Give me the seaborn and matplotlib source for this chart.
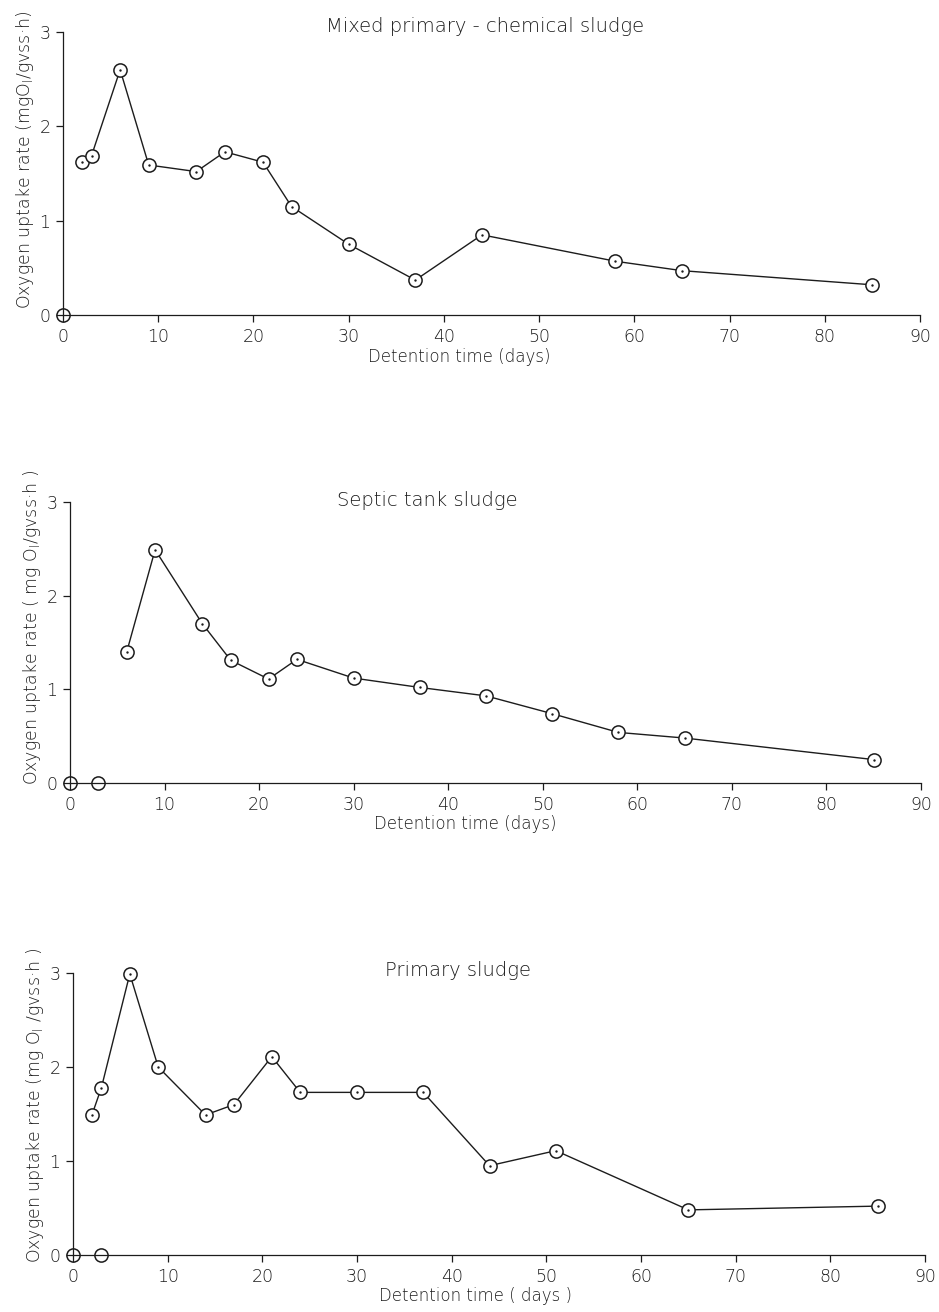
import matplotlib
matplotlib.use("Agg")
import matplotlib.pyplot as plt
import pandas as pd
import seaborn as sns

# ---------------- data ----------------
titles = ["Mixed primary - chemical sludge", "Septic tank sludge", "Primary sludge"]
xlabels = ["Detention time (days)", "Detention time (days)", "Detention time ( days )"]
ylabels = [r"Oxygen uptake rate (mgO$_\mathregular{l}$/gvss·h)",
           r"Oxygen uptake rate ( mg O$_\mathregular{l}$/gvss·h )",
           r"Oxygen uptake rate (mg O$_\mathregular{l}$ /gvss·h )"]

mixed_days = [2, 3, 6, 9, 14, 17, 21, 24, 30, 37, 44, 58, 65, 85]
mixed_rate = [1.62, 1.69, 2.60, 1.59, 1.52, 1.73, 1.62, 1.15, 0.75, 0.37, 0.85, 0.57, 0.47, 0.32]
mixed_zero_days = [0]

septic_days = [6, 9, 14, 17, 21, 24, 30, 37, 44, 51, 58, 65, 85]
septic_rate = [1.40, 2.49, 1.70, 1.31, 1.11, 1.32, 1.12, 1.02, 0.93, 0.74, 0.54, 0.48, 0.25]
septic_zero_days = [0, 3]

primary_days = [2, 3, 6, 9, 14, 17, 21, 24, 30, 37, 44, 51, 65, 85]
primary_rate = [1.49, 1.78, 2.99, 2.00, 1.49, 1.60, 2.11, 1.73, 1.73, 1.73, 0.95, 1.11, 0.48, 0.52]
primary_zero_days = [0, 3]

x_ticks = [0, 10, 20, 30, 40, 50, 60, 70, 80, 90]
y_ticks = [0, 1, 2, 3]

# ---------------- style ----------------
sns.set_style("ticks")
plt.rcParams["font.family"] = ["DejaVu Sans"]
plt.rcParams["mathtext.default"] = "regular"
ink = "#1c1c1c"

W, H = 939, 1312
fig = plt.figure(figsize=(W / 100, H / 100), dpi=100)
fig.patch.set_facecolor("white")

# axes boxes in pixels: (left x at 0, right x at 90, y of 0, y of 3)
boxes = [(63, 920, 315, 32), (70, 921, 783, 502), (73, 925, 1255, 973)]
title_pos = [(485, 27), (427, 500), (458, 970)]
xlabel_x = [0.462, 0.465, 0.472]
ylabel_y = [0.55, 0.555, 0.53]

panels = [
    (mixed_days, mixed_rate, mixed_zero_days),
    (septic_days, septic_rate, septic_zero_days),
    (primary_days, primary_rate, primary_zero_days),
]

for i, (days, rate, zeros) in enumerate(panels):
    l, r, b, t = boxes[i]
    ax = fig.add_axes([l / W, 1 - b / H, (r - l) / W, (b - t) / H])
    ax.set_facecolor("none")
    df = pd.DataFrame({"days": days, "rate": rate})
    sns.lineplot(data=df, x="days", y="rate", ax=ax, color=ink, lw=1.0,
                 marker="o", markersize=9.5, markerfacecolor="white",
                 markeredgecolor=ink, markeredgewidth=1.1, clip_on=False, zorder=3)
    sns.scatterplot(data=df, x="days", y="rate", ax=ax, s=3, color=ink,
                    linewidth=0, clip_on=False, zorder=4)
    zdf = pd.DataFrame({"days": zeros, "rate": [0] * len(zeros)})
    sns.lineplot(data=zdf, x="days", y="rate", ax=ax, color=ink, linestyle="",
                 marker="o", markersize=9.5, markerfacecolor="none",
                 markeredgecolor=ink, markeredgewidth=1.1, clip_on=False, zorder=3)

    ax.set_xlim(0, 90)
    ax.set_ylim(0, 3)
    ax.set_xticks(x_ticks)
    ax.set_yticks(y_ticks)
    ax.set_xticklabels([str(v) for v in x_ticks], fontweight="light")
    ax.set_yticklabels([str(v) for v in y_ticks], fontweight="light")
    sns.despine(ax=ax)
    for s in ("left", "bottom"):
        ax.spines[s].set_linewidth(0.9)
        ax.spines[s].set_color(ink)
    ax.tick_params(direction="out", length=5, width=0.9, colors=ink,
                   labelsize=12.5, pad=4)

    ax.set_xlabel(xlabels[i], fontsize=12, color=ink, fontweight="light", va="top")
    ax.xaxis.set_label_coords(xlabel_x[i], -0.115)
    ax.set_ylabel(ylabels[i], fontsize=12.5, color=ink, fontweight="light")
    ax.yaxis.set_label_coords(-0.032, ylabel_y[i])

    tx, ty = title_pos[i]
    fig.text(tx / W, 1 - ty / H, titles[i], ha="center", va="center",
             fontsize=14, color=ink, fontweight="light")

fig.savefig("out.png", dpi=100, facecolor="white")
